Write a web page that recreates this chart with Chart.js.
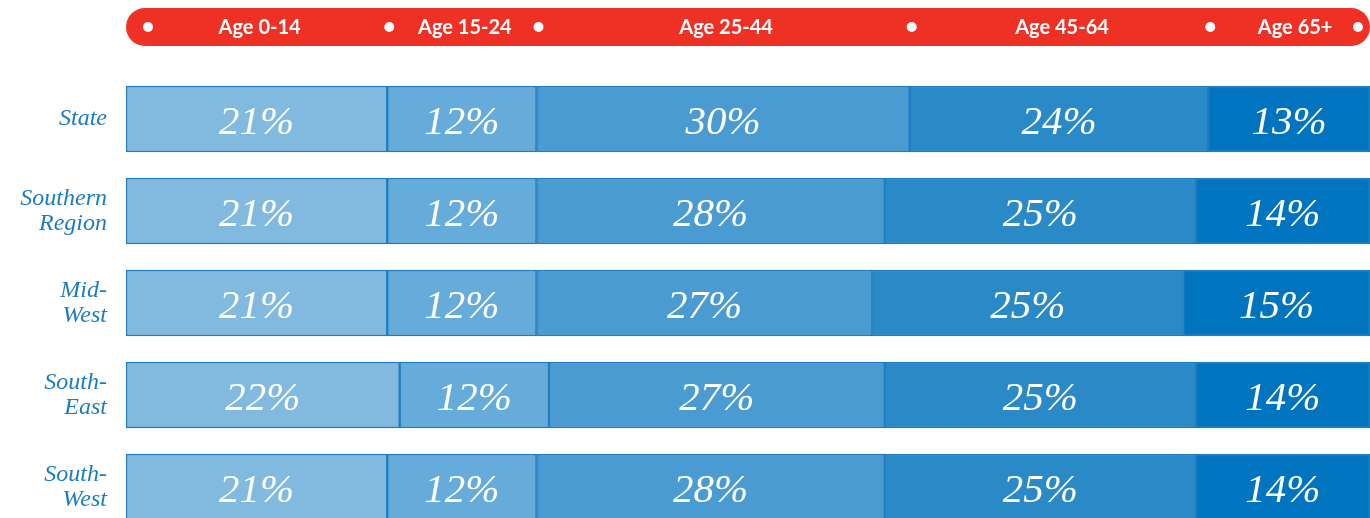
<!DOCTYPE html>
<html>
<head>
<meta charset="utf-8">
<script src="https://cdn.jsdelivr.net/npm/chart.js@4.4.1/dist/chart.umd.min.js"></script>
<style>
  html, body { margin: 0; padding: 0; background: #fff; overflow: hidden; }
  #wrap { position: relative; width: 1370px; height: 560px; }
</style>
</head>
<body>
<div id="wrap"><canvas id="grafico-edades"></canvas></div>
<script>
// datos de la grafica
const regiones = [['State'], ['Southern', 'Region'], ['Mid-', 'West'], ['South-', 'East'], ['South-', 'West']];
const grupos = ['Age 0-14', 'Age 15-24', 'Age 25-44', 'Age 45-64', 'Age 65+'];
const edad0a14 = [21, 21, 21, 22, 21];
const edad15a24 = [12, 12, 12, 12, 12];
const edad25a44 = [30, 28, 27, 27, 28];
const edad45a64 = [24, 25, 25, 25, 25];
const edad65mas = [13, 14, 15, 14, 14];

const colores = ['#82b9df', '#65acda', '#4a9bd1', '#2a8ac8', '#0074bf'];
const series = [edad0a14, edad15a24, edad25a44, edad45a64, edad65mas];

// barra roja de encabezado con los grupos de edad
const encabezado = {
  id: 'encabezado',
  afterDraw(chart) {
    const ctx = chart.ctx;
    const area = chart.chartArea;
    const x = chart.scales.x;
    const top = 8, h = 38, r = 19;
    ctx.save();
    ctx.fillStyle = '#ee3124';
    ctx.beginPath();
    ctx.roundRect(area.left, top, area.right - area.left, h, r);
    ctx.fill();

    // limites segun la fila State
    let acum = 0;
    const limites = [x.getPixelForValue(0)];
    series.forEach(s => { acum += s[0]; limites.push(x.getPixelForValue(acum)); });

    const cy = top + h / 2;
    ctx.fillStyle = '#fff';
    limites.forEach((px, i) => {
      let dx = px + 2;
      if (i === 0) dx = px + 22;
      if (i === limites.length - 1) dx = px - 12;
      ctx.beginPath();
      ctx.arc(dx, cy, 5, 0, Math.PI * 2);
      ctx.fill();
    });

    ctx.font = 'bold 20px Lato';
    ctx.textAlign = 'center';
    ctx.textBaseline = 'middle';
    grupos.forEach((g, i) => {
      let mx = (limites[i] + limites[i + 1]) / 2 + 3;
      if (i === grupos.length - 1) mx += 3;
      ctx.fillText(g, mx, cy + 1);
    });
    ctx.restore();
  }
};

// porcentajes dentro de cada segmento
const etiquetas = {
  id: 'etiquetas',
  afterDatasetsDraw(chart) {
    const ctx = chart.ctx;
    ctx.save();
    ctx.fillStyle = '#fff';
    ctx.font = 'italic 41px "Liberation Serif"';
    ctx.textAlign = 'center';
    ctx.textBaseline = 'middle';
    chart.data.datasets.forEach((ds, i) => {
      chart.getDatasetMeta(i).data.forEach((bar, j) => {
        const cx = (bar.x + bar.base) / 2;
        ctx.fillText(ds.data[j] + '%', cx, bar.y + 4);
      });
    });
    ctx.restore();
  }
};

const ctx = document.getElementById('grafico-edades');
new Chart(ctx, {
  type: 'bar',
  data: {
    labels: regiones,
    datasets: series.map((s, i) => ({
      label: grupos[i],
      data: s,
      backgroundColor: colores[i],
      borderColor: '#1f7ec3',
      borderWidth: 1.5,
      borderSkipped: false,
      barThickness: 66
    }))
  },
  options: {
    indexAxis: 'y',
    responsive: true,
    maintainAspectRatio: false,
    animation: false,
    layout: { padding: { top: 73, right: 0, bottom: 27, left: 0 } },
    plugins: {
      legend: { display: false },
      tooltip: { enabled: false }
    },
    scales: {
      x: {
        stacked: true,
        min: 0,
        max: 100,
        display: false
      },
      y: {
        stacked: true,
        border: { display: false },
        grid: { display: false },
        ticks: {
          color: '#1b7cc1',
          padding: 11,
          font: { family: '"Liberation Serif"', style: 'italic', size: 24, lineHeight: 1.05 }
        },
        afterFit(scale) { scale.width = 126; }
      }
    }
  },
  plugins: [encabezado, etiquetas]
});
</script>
</body>
</html>
